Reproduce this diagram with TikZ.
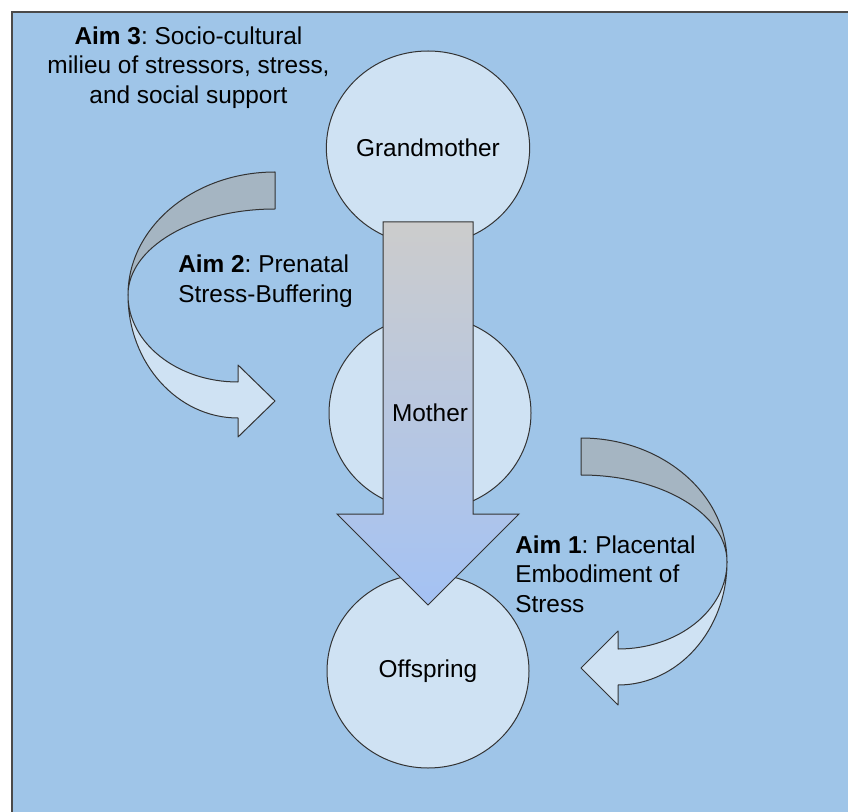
\documentclass[tikz,border=0pt]{standalone}
\usepackage{fontspec}
\setmainfont{Liberation Sans}
\usetikzlibrary{shapes.geometric}
\definecolor{panel}{HTML}{9FC5E8}
\definecolor{bubble}{HTML}{CFE2F3}
\definecolor{ribbonback}{HTML}{A5B5C2}
\definecolor{flowtop}{HTML}{CCCCCC}
\definecolor{flowbottom}{HTML}{A4C2F4}
\definecolor{edge}{HTML}{333333}
\definecolor{frame}{HTML}{4A4A4A}
\frenchspacing

\begin{document}
\begin{tikzpicture}[x=0.75pt,y=-0.75pt,
  person/.style={ellipse, draw=edge, line width=0.75pt, fill=bubble,
    minimum width=151.5pt, minimum height=145.5pt, inner sep=0pt,
    font=\fontsize{18.3pt}{22.1pt}\selectfont},
  nametext/.style={inner sep=0pt, font=\fontsize{18.3pt}{22.1pt}\selectfont},
  aimtext/.style={inner sep=0pt, font=\fontsize{18.3pt}{22.1pt}\selectfont},
  ribbon/.style={draw=edge, line width=0.75pt, line join=round}]

  \useasboundingbox (0,0) rectangle (848,812);
  \fill[white] (0,0) rectangle (848,812);
  \clip (0,0) rectangle (848,812);

  % panel
  \draw[frame, line width=1.1pt, fill=panel] (12,12) rectangle (860,830);

  % generations
  \node[person] (grandmother) at (428,148) {Grandmother};
  \node[person] (mother) at (430,413) {};
  \node[person] (offspring) at (428,671) {Offspring};

  % intergenerational flow arrow
  \shade[top color=flowtop, bottom color=flowbottom]
    (383,222) -- (473,222) -- (473,514) -- (519,514) -- (428,605)
    -- (337,514) -- (383,514) -- cycle;
  \draw[edge, line width=0.75pt, line join=miter]
    (383,222) -- (473,222) -- (473,514) -- (519,514) -- (428,605)
    -- (337,514) -- (383,514) -- cycle;
  \node[nametext] at (mother) {Mother};

  % left curved arrow (Aim 2)
  \draw[ribbon, fill=ribbonback] (275,172) .. controls (193.8,172) and (128,227.1) .. (128,295)
    .. controls (128,247.5) and (193.8,209) .. (275,209) -- cycle;
  \draw[ribbon, fill=bubble] (128,295) .. controls (128,362.9) and (177.25,418) .. (238,418)
    -- (238,437) -- (275,401) -- (238,365) -- (238,382)
    .. controls (177.25,382) and (128,343.05) .. (128,295) -- cycle;

  % right curved arrow (Aim 1)
  \draw[ribbon, fill=ribbonback] (581,438) .. controls (661.6,438) and (727,493.5) .. (727,562)
    .. controls (727,514) and (661.6,475) .. (581,475) -- cycle;
  \draw[ribbon, fill=bubble] (727,562) .. controls (727,629.9) and (678.2,685) .. (618,685)
    -- (618,705) -- (581,668) -- (618,631) -- (618,649)
    .. controls (678.2,649) and (727,610) .. (727,562) -- cycle;

  % aims
  \node[aimtext, align=center] (aim3) at (188.5,67.5)
    {\textbf{Aim 3}: Socio-cultural\\milieu of stressors, stress,\\and social support};
  \node[aimtext, align=left, anchor=west] (aim2) at (178,281)
    {\textbf{Aim 2}: Prenatal\\Stress-Buffering};
  \node[aimtext, align=left, anchor=west] (aim1) at (515,574)
    {\textbf{Aim 1}: Placental\\Embodiment of\\Stress};
\end{tikzpicture}
\end{document}
